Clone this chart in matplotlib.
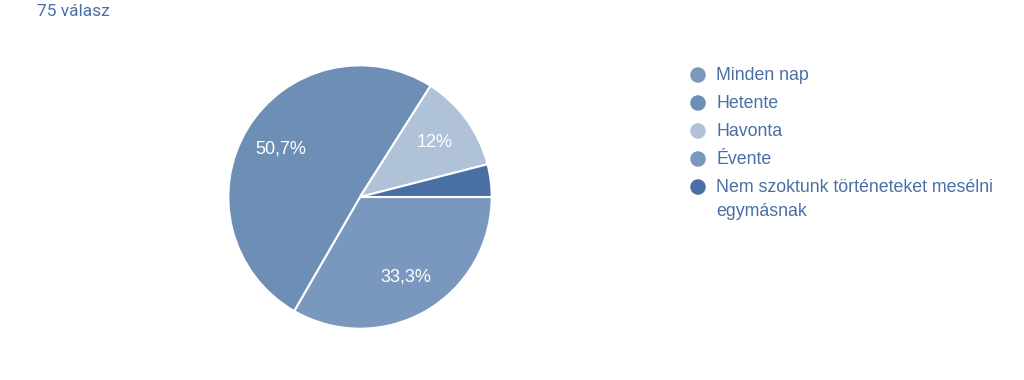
import matplotlib
matplotlib.use("Agg")
import matplotlib.pyplot as plt

# survey answers (75 responses)
categories = ["Minden nap", "Hetente", "Havonta", "Évente",
              "Nem szoktunk történeteket mesélni\negymásnak"]
counts = [0, 38, 9, 25, 3]
colors = ["#7b99bd", "#6e8fb5", "#b0c2d8", "#7a98bd", "#4a70a3"]
total_label = "75 válasz"

# slices go clockwise from 3 o'clock in this order
draw_order = [3, 1, 2, 4]

text_color = "#4a6fa5"
plt.rcParams['font.family'] = ['Liberation Sans', 'DejaVu Sans']

fig = plt.figure(figsize=(10.24, 3.8), dpi=100)
fig.patch.set_facecolor("white")


def pct_label(p):
    if p < 5:
        return ""
    return (f"{round(p, 1):g}").replace(".", ",") + "%"


# pie axes
ax = fig.add_axes([227 / 1024, 50 / 380, 266 / 1024, 266 / 380])
vals = [counts[i] for i in draw_order]
cols = [colors[i] for i in draw_order]
wedges, texts, autotexts = ax.pie(
    vals, colors=cols, startangle=0, counterclock=False,
    autopct=pct_label, pctdistance=0.70, radius=1.0,
    wedgeprops=dict(edgecolor="white", linewidth=1.5),
    textprops=dict(color="white", fontsize=13))
ax.set_xlim(-1.01, 1.01)
ax.set_ylim(-1.01, 1.01)
ax.set_aspect("equal")

# overlay axes in pixel coordinates for the header and legend
lax = fig.add_axes([0, 0, 1, 1])
lax.set_xlim(0, 1024)
lax.set_ylim(380, 0)
lax.axis("off")

lax.text(37, 12, total_label, color=text_color, fontsize=12.5,
         family=["Roboto", "DejaVu Sans"], va="center", ha="left")

y = 75
for name, c in zip(categories, colors):
    lax.scatter([698], [y], s=125, color=c, edgecolors="none")
    for k, line in enumerate(name.split("\n")):
        lax.text(716, y + 24 * k, line, color=text_color, fontsize=12.8,
                 va="center", ha="left")
    y += 28

fig.savefig("out.png", dpi=100, facecolor="white")
